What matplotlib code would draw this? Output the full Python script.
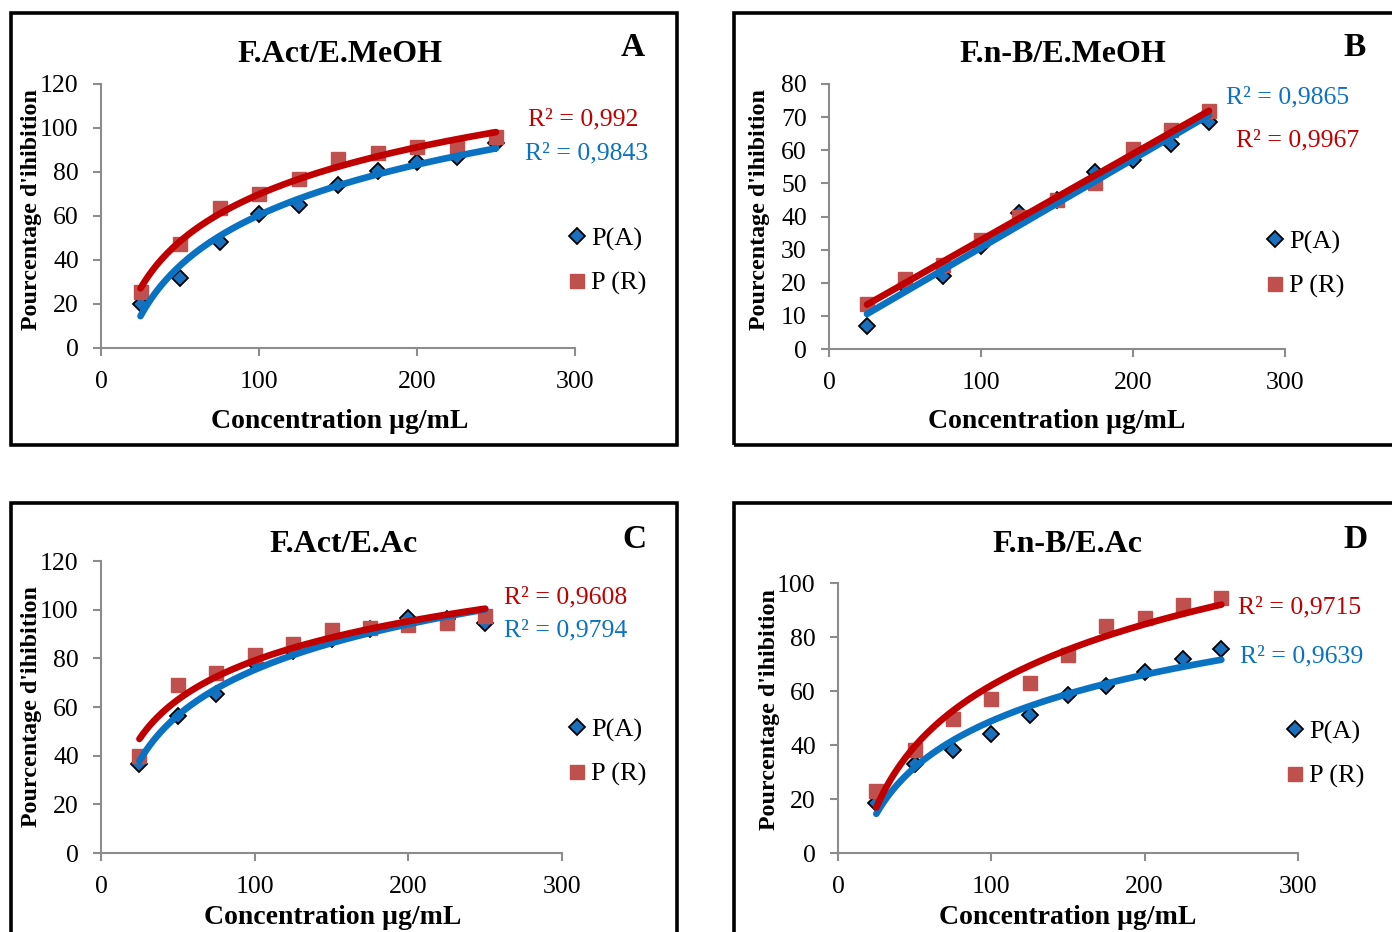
import numpy as np
import matplotlib
matplotlib.use('Agg')
import matplotlib.pyplot as plt
from matplotlib.patches import Rectangle
from matplotlib.lines import Line2D

plt.rcParams['font.family'] = ['Liberation Serif', 'DejaVu Serif']

W, H = 1392, 932

# concentrations (µg/mL)
conc = [25, 50, 75, 100, 125, 150, 175, 200, 225, 250]

# A : F.Act/E.MeOH
pA_A = [20, 32, 48, 61, 65, 74, 80.5, 84.5, 87, 93]
pR_A = [25.5, 47.5, 63.5, 70, 77, 86, 88.5, 91.5, 91.5, 96]
# B : F.n-B/E.MeOH
pA_B = [7, 19, 22, 31, 41, 45, 53.5, 57, 62, 68.5]
pR_B = [13.5, 21, 25.5, 33, 40, 45, 50, 60.5, 66, 72]
# C : F.Act/E.Ac
pA_C = [36.5, 56.5, 65.5, 78, 83, 88, 92, 96.5, 96, 94.5]
pR_C = [40, 69, 74, 81.5, 86, 91.5, 92.5, 93.5, 94.5, 97.5]
# D : F.n-B/E.Ac
pA_D = [18.5, 33, 38, 44, 51, 58.5, 62, 67, 72, 75.5]
pR_D = [23, 38, 49.5, 57, 63, 73.5, 84, 87, 92, 94.5]

blue_m = '#1A70BC'
red_m = '#C0504D'
blue_l = '#0A72C2'
red_l = '#C00000'

fig = plt.figure(figsize=(W / 100, H / 100), dpi=100)


def fx(x):
    return x / W


def fy(y):
    return 1 - y / H


def txt(x, y, s, **kw):
    fig.text(fx(x), fy(y), s, ha='center', va='center', **kw)


def panel(box, ax_px, ymax, ystep, pa, pr, fit, title, tpos, letter, lpos,
          r2, rpos, xlpos, ylpos, legpos):
    # cadre noir du panneau
    x0, y0, x1, y1 = box
    fig.patches.append(Rectangle((fx(x0), fy(y1)), fx(x1 - x0), (y1 - y0) / H,
                                 transform=fig.transFigure, fill=False,
                                 edgecolor='black', linewidth=2.6))
    l, r, b, t = ax_px
    ax = fig.add_axes([fx(l), fy(b), fx(r - l), (b - t) / H])
    x = np.array(conc, dtype=float)
    ax.plot(x, pa, linestyle='none', marker='D', markersize=8,
            markerfacecolor=blue_m, markeredgecolor='black', markeredgewidth=1.3, zorder=3)
    ax.plot(x, pr, linestyle='none', marker='s', markersize=10.5,
            color=red_m, zorder=3)
    xx = np.linspace(25, 250, 200)
    # courbes de tendance (log ou lineaire)
    for yv, col in [(pa, blue_l), (pr, red_l)]:
        if fit == 'log':
            a, c = np.polyfit(np.log(x), yv, 1)
            yy = a * np.log(xx) + c
        else:
            a, c = np.polyfit(x, yv, 1)
            yy = a * xx + c
        ax.plot(xx, yy, color=col, linewidth=4.8, solid_capstyle='round', zorder=4)
    ax.set_xlim(0, 300)
    ax.set_ylim(0, ymax)
    ax.set_xticks([0, 100, 200, 300])
    ax.set_yticks(np.arange(0, ymax + 1, ystep))
    for s in ['top', 'right']:
        ax.spines[s].set_visible(False)
    for s in ['left', 'bottom']:
        ax.spines[s].set_color('#8C8C8C')
        ax.spines[s].set_linewidth(1.5)
    ax.tick_params(axis='both', colors='#8C8C8C', length=6, width=1.5,
                   labelsize=18.5, labelcolor='black')
    ax.tick_params(axis='y', pad=10)
    ax.tick_params(axis='x', pad=10.5)
    ax.patch.set_alpha(0)
    for lab in ax.get_xticklabels() + ax.get_yticklabels():
        lab.set_clip_on(False)

    txt(tpos[0], tpos[1] + 2, title, fontsize=23, fontweight='bold')
    txt(lpos[0], lpos[1] + 1, letter, fontsize=24, fontweight='bold')
    txt(xlpos[0], xlpos[1] + 1, 'Concentration µg/mL', fontsize=20, fontweight='bold')
    txt(ylpos[0], ylpos[1], "Pourcentage d'ihibition", fontsize=17.3,
        fontweight='bold', rotation=90)
    for (s, col), (px, py) in zip(r2, rpos):
        txt(px, py + 1, s, fontsize=18.5, color=col)

    # legende
    hA = Line2D([], [], linestyle='none', marker='D', markersize=8,
                markerfacecolor=blue_m, markeredgecolor='black', markeredgewidth=1.3)
    hR = Line2D([], [], linestyle='none', marker='s', markersize=10.5, color=red_m)
    ax.legend([hA, hR], ['P(A)', 'P (R)'], loc='upper left',
              bbox_to_anchor=(fx(legpos[0]), fy(legpos[1] + 5)),
              bbox_transform=fig.transFigure, frameon=False, fontsize=19,
              handlelength=0.6, handletextpad=0.25, labelspacing=0.78,
              borderpad=0, borderaxespad=0)
    return ax


panel((11, 13, 677, 445), (101, 575, 348, 84), 120, 20, pA_A, pR_A, 'log',
      'F.Act/E.MeOH', (340, 52), 'A', (633, 47),
      [('R² = 0,992', red_l), ('R² = 0,9843', blue_l)], [(583, 118), (587, 152)],
      (340, 420), (32, 210), (569, 222))

panel((734, 13, 1400, 445), (829, 1285, 349, 84), 80, 10, pA_B, pR_B, 'lin',
      'F.n-B/E.MeOH', (1063, 52), 'B', (1355, 47),
      [('R² = 0,9865', blue_l), ('R² = 0,9967', red_l)], [(1288, 96), (1298, 139)],
      (1057, 420), (759, 210), (1267, 225))

panel((11, 503, 677, 945), (101, 562, 853, 561), 120, 20, pA_C, pR_C, 'log',
      'F.Act/E.Ac', (344, 543), 'C', (634, 538),
      [('R² = 0,9608', red_l), ('R² = 0,9794', blue_l)], [(566, 596), (566, 629)],
      (333, 916), (32, 707), (569, 713))

panel((734, 503, 1400, 945), (838, 1298, 853, 583), 100, 20, pA_D, pR_D, 'log',
      'F.n-B/E.Ac', (1067, 543), 'D', (1356, 538),
      [('R² = 0,9715', red_l), ('R² = 0,9639', blue_l)], [(1300, 606), (1302, 655)],
      (1068, 916), (770, 710), (1287, 715))

plt.savefig('out.png', dpi=100)
